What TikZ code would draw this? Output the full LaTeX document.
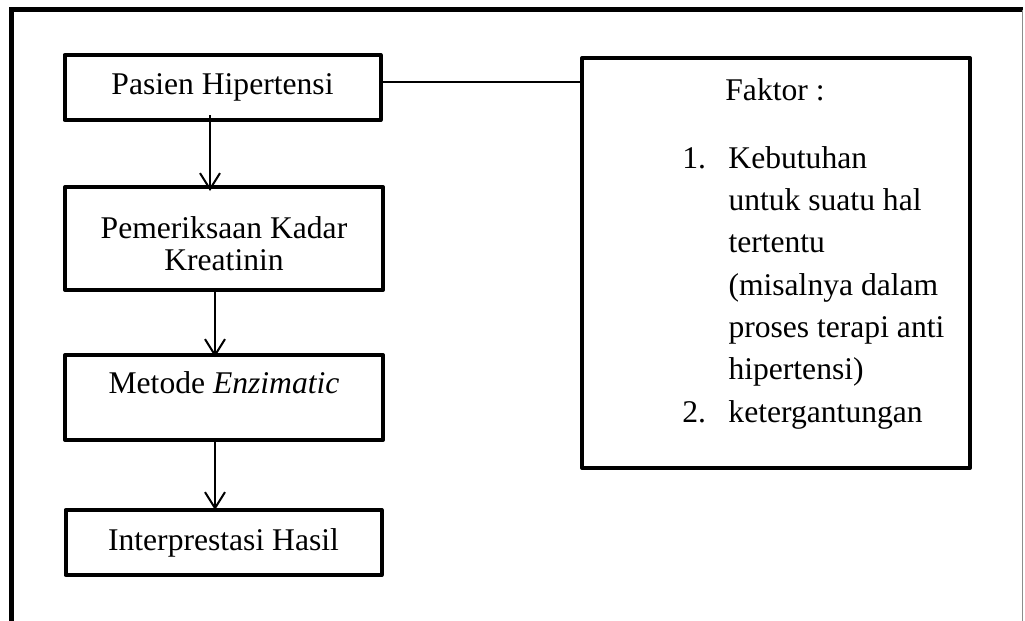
\documentclass[tikz,border=0pt]{standalone}
\usepackage{fontspec}
\setmainfont{Liberation Serif}
\usetikzlibrary{arrows.meta,calc}
\begin{document}
\begin{tikzpicture}[x=0.5pt,y=-0.5pt,
  flowbox/.style={draw,line width=2pt,line join=round,minimum width=158pt,inner sep=0pt,align=center,font=\fontsize{15.8pt}{16pt}\selectfont},
  arr/.style={line width=1pt,-{Straight Barb[length=8pt,width=10pt,line width=1pt]}},
  txt/.style={inner sep=0pt,font=\fontsize{15.8pt}{21.2pt}\selectfont}]
\useasboundingbox (0,0) rectangle (1025,621);
% outer frame
\draw[line width=2.2pt] (11.3,625) -- (11.3,9.5) -- (1023,9.5);
\draw[line width=0.6pt,black!45] (1022.8,9.5) -- (1022.8,625);
% boxes
\node[flowbox,minimum height=32.5pt] (b1) at (222.5,87.5) {Pasien Hipertensi};
\node[flowbox,minimum height=51.5pt,minimum width=159pt] (b2) at (224,238.5) {\rule{0pt}{15.8pt}Pemeriksaan Kadar\\Kreatinin};
\node[flowbox,minimum height=42.5pt,minimum width=159pt] (b3) at (224,397.5) {Metode \textit{Enzimatic}\rule[-15.3pt]{0pt}{15.3pt}};
\node[flowbox,minimum height=32.5pt] (b4) at (223.5,542.5) {Interprestasi Hasil};
\node[draw,line width=2pt,line join=round,minimum width=194pt,minimum height=205pt,inner sep=0pt] (fk) at (776,263) {};
% arrows
\draw[arr] ($(b1.south)+(-12.5,-7)$) -- ($(b2.north)+(-14,6)$);
\draw[arr] ($(b2.south)+(-9,-3)$) -- ($(b3.north)+(-9,4)$);
\draw[arr] ($(b3.south)+(-9,-2)$) -- ($(b4.north)+(-8.5,2)$);
% connector
\coordinate (ly) at (0,82);
\draw[line width=1pt] (b1.east |- ly) -- (fk.west |- ly);
% factor text
\node[txt,anchor=base west] (ft) at (725,100) {Faktor :};
\node[txt,anchor=base west] (fl) at (682,168) {\begin{tabular}[t]{@{}l@{\hspace{11.2pt}}l@{}}
1. & Kebutuhan\\
   & untuk suatu hal\\
   & tertentu\\
   & (misalnya dalam\\
   & proses terapi anti\\
   & hipertensi)\\
2. & ketergantungan
\end{tabular}};
\end{tikzpicture}
\end{document}
